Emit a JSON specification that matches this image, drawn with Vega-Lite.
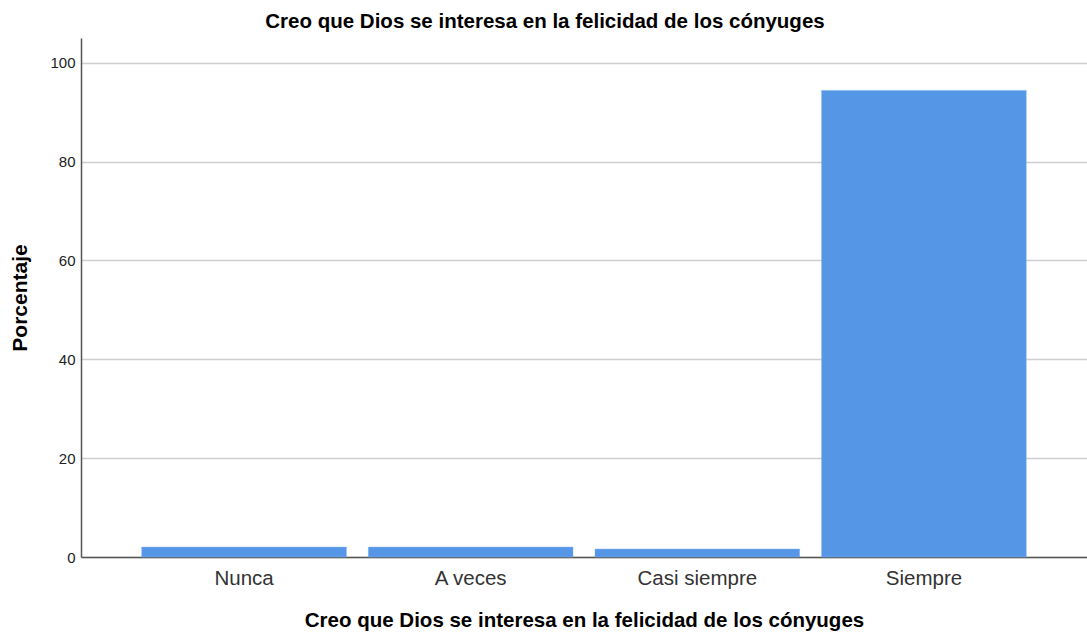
{
  "$schema": "https://vega.github.io/schema/vega-lite/v6.json",
  "width": 1006,
  "height": 519,
  "autosize": "none",
  "padding": {"left": 81, "top": 38, "right": 0, "bottom": 78},
  "background": "white",
  "title": {
    "text": "Creo que Dios se interesa en la felicidad de los cónyuges",
    "font": "Liberation Sans",
    "fontSize": 20.5,
    "fontWeight": "bold",
    "color": "#000000",
    "anchor": "middle",
    "dx": -39,
    "offset": 6
  },
  "config": {"view": {"stroke": null}},
  "data": {
    "values": [
      {"categoria": "Nunca", "porcentaje": 2.0},
      {"categoria": "A veces", "porcentaje": 2.0},
      {"categoria": "Casi siempre", "porcentaje": 1.6},
      {"categoria": "Siempre", "porcentaje": 94.4}
    ]
  },
  "mark": {"type": "bar", "color": "#5596e6", "stroke": "#7fb0ef", "strokeWidth": 0.5},
  "encoding": {
    "x": {
      "field": "categoria",
      "type": "nominal",
      "sort": ["Nunca", "A veces", "Casi siempre", "Siempre"],
      "scale": {"paddingInner": 0.097, "paddingOuter": 0.268},
      "axis": {
        "title": "Creo que Dios se interesa en la felicidad de los cónyuges",
        "titleFont": "Liberation Sans",
        "titleFontSize": 20.5,
        "titleFontWeight": "bold",
        "titleColor": "#000000",
        "titlePadding": 22,
        "labelFont": "Liberation Sans",
        "labelFontSize": 20.5,
        "labelColor": "#333333",
        "labelAngle": 0,
        "labelPadding": 11,
        "ticks": false,
        "domainColor": "#555555",
        "domainWidth": 1.5,
        "grid": false
      }
    },
    "y": {
      "field": "porcentaje",
      "type": "quantitative",
      "scale": {"domain": [0, 105], "nice": false},
      "axis": {
        "title": "Porcentaje",
        "titleFont": "Liberation Sans",
        "titleFontSize": 21,
        "titleFontWeight": "bold",
        "titleColor": "#000000",
        "titlePadding": 19,
        "values": [0, 20, 40, 60, 80, 100],
        "labelFont": "Liberation Sans",
        "labelFontSize": 15,
        "labelColor": "#222222",
        "labelPadding": 6,
        "ticks": false,
        "domainColor": "#555555",
        "domainWidth": 1.5,
        "grid": true,
        "gridColor": "#cfcfcf",
        "gridWidth": 1.5
      }
    }
  }
}
